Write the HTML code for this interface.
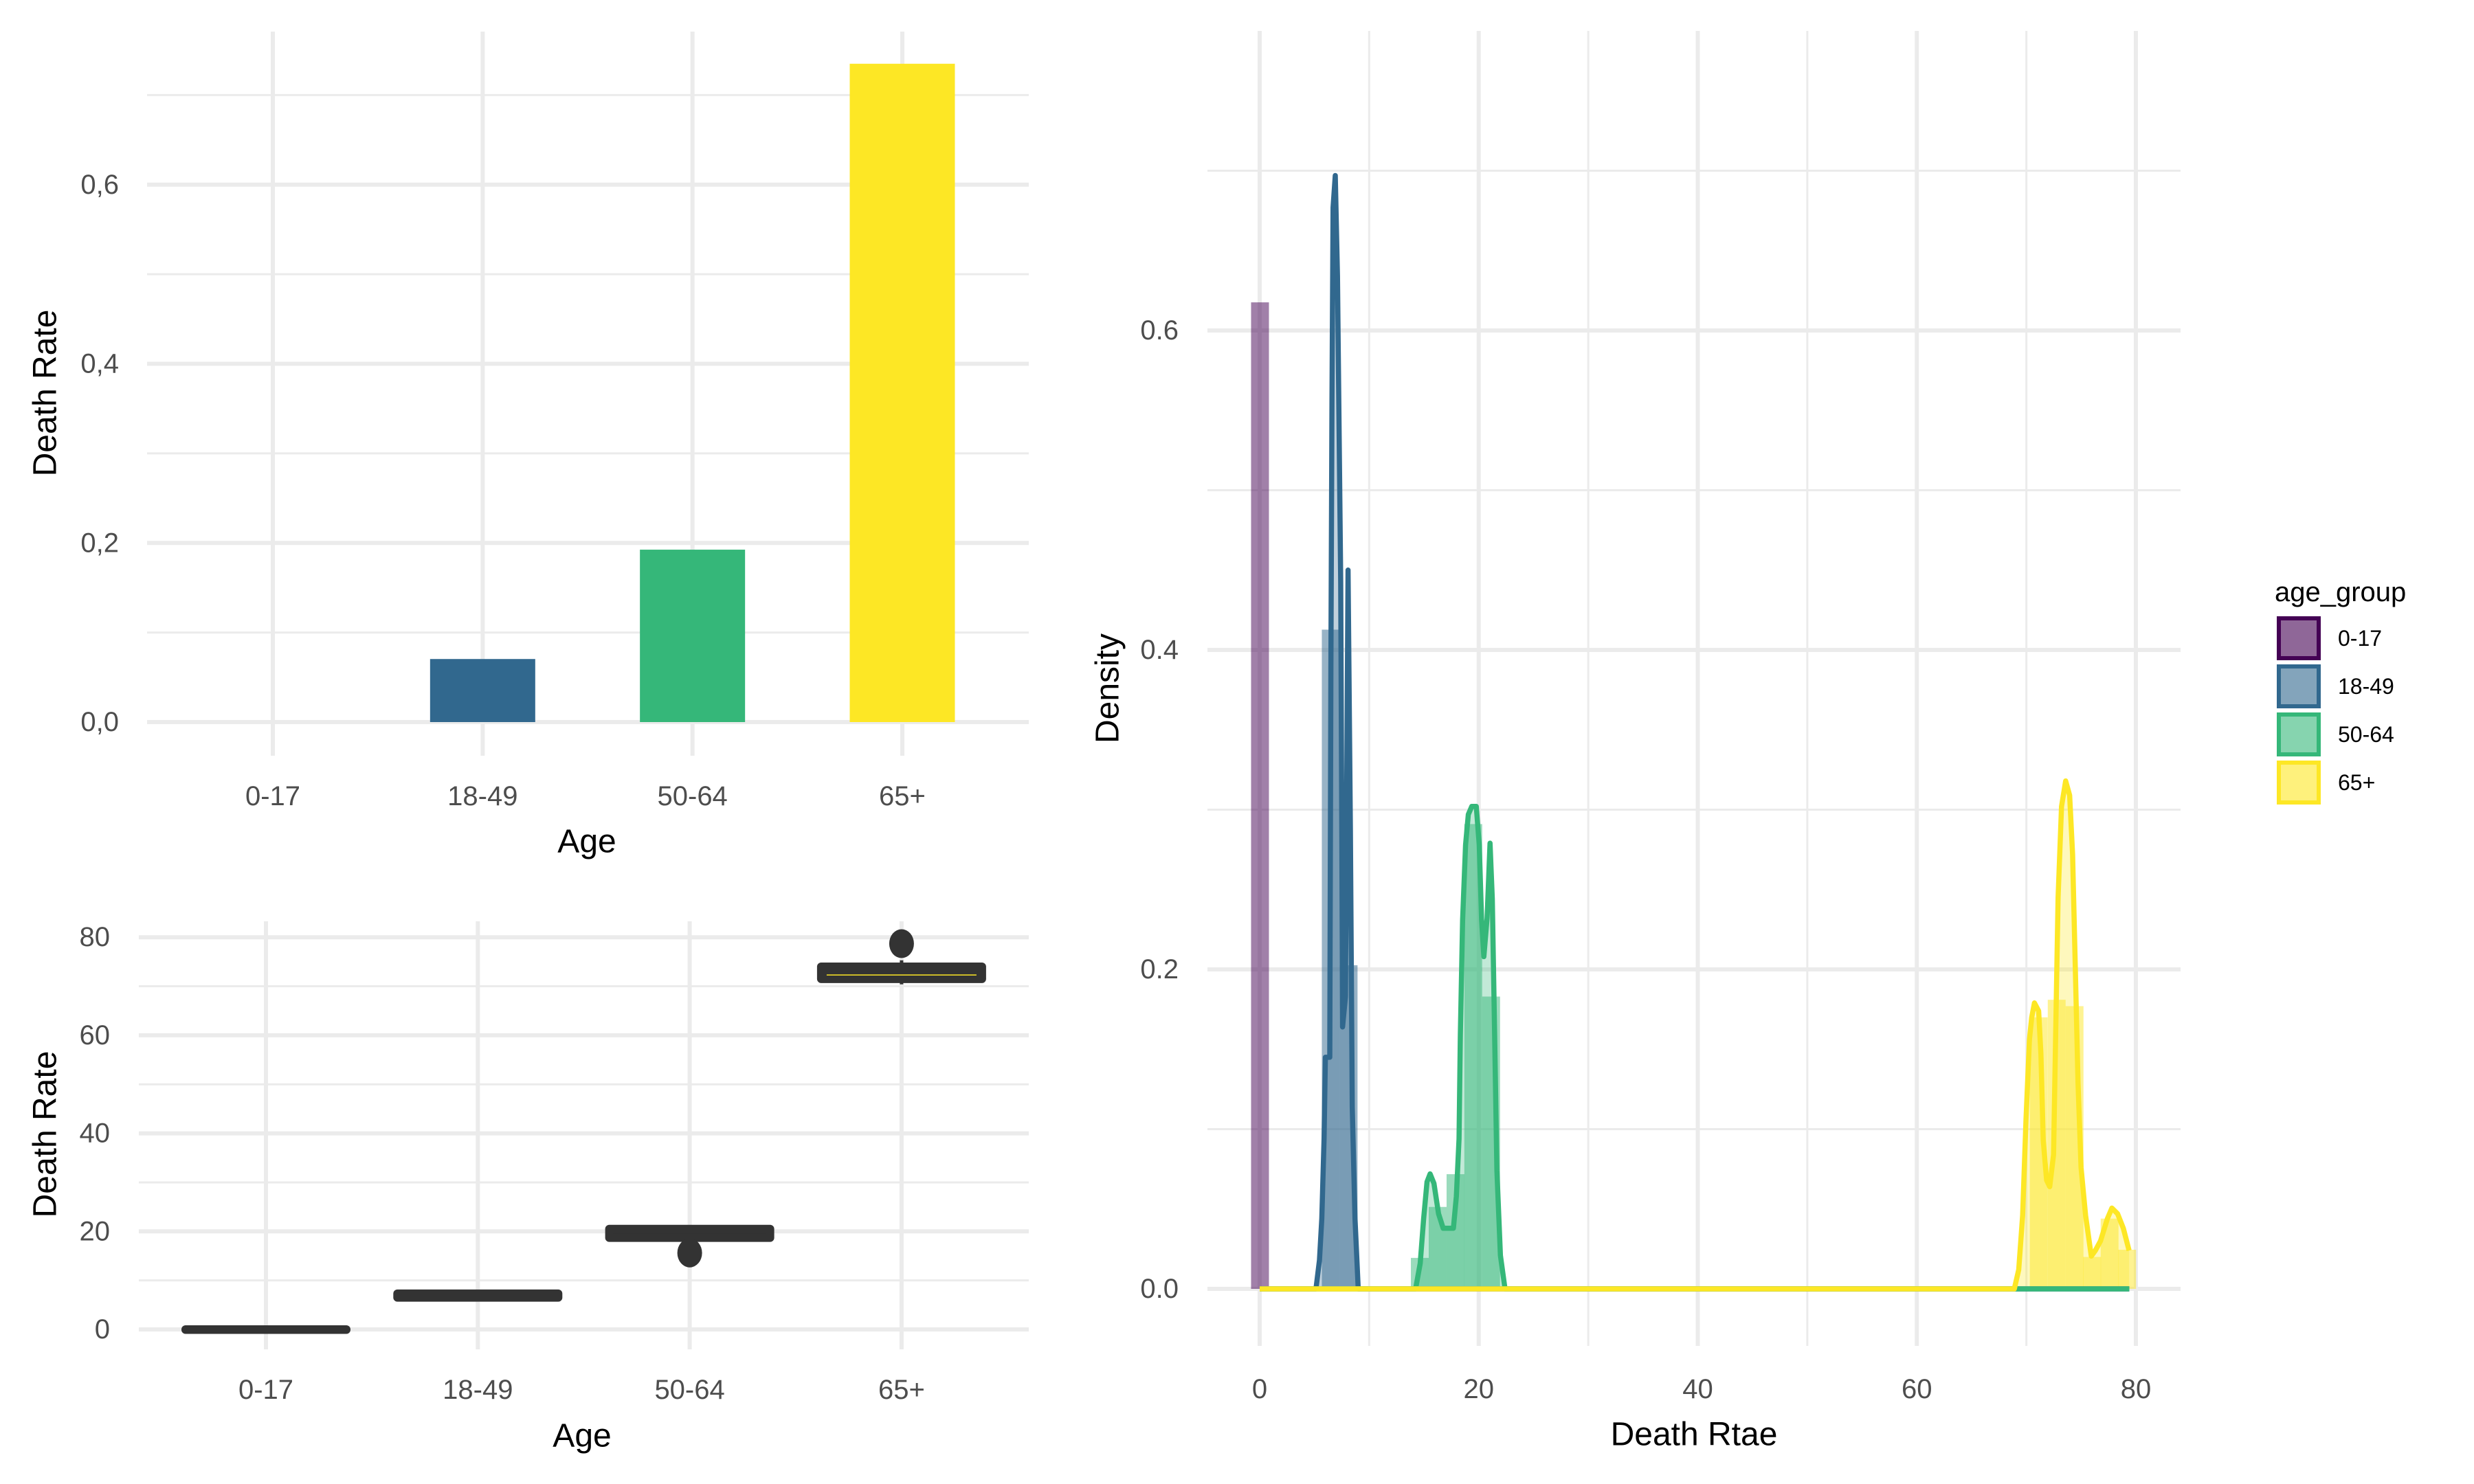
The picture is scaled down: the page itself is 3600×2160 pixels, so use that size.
<!DOCTYPE html>
<html>
<head>
<meta charset="utf-8">
<style>
html,body{margin:0;padding:0;background:#fff;}
svg{display:block;font-family:"Liberation Sans",Arial,sans-serif;}
</style>
</head>
<body>
<svg id="chart" width="3600" height="2160" viewBox="0 0 3600 2160" xmlns="http://www.w3.org/2000/svg">
<g id="grids"></g>
<g id="marks"></g>
<g id="labels"></g>
</svg>
<script>
// ---------- data ----------
const ageGroups = ["0-17","18-49","50-64","65+"];
const colors = ["#440154","#31688E","#35B779","#FDE725"];
const barValues = [0, 0.0704, 0.1925, 0.735];
const barTicks = [0, 0.2, 0.4, 0.6];
const barTickLabels = ["0,0","0,2","0,4","0,6"];

const boxMin = [0, 6.3, 18.3, 70.4];
const boxQ1 = [0, 6.5, 18.7, 71.5];
const boxMed = [0, 7.0, 19.8, 72.3];
const boxQ3 = [0, 7.3, 20.5, 74.0];
const boxMax = [0, 7.6, 21.0, 75.3];
const boxOutlierGroup = [2, 3];
const boxOutlierValue = [15.6, 78.7];
const boxTicks = [0, 20, 40, 60, 80];

const densTicksX = [0, 20, 40, 60, 80];
const densTicksY = [0, 0.2, 0.4, 0.6];
const densTickLabelsY = ["0.0","0.2","0.4","0.6"];
const binWidth = 1.63;
const histCenters0 = [0.03];
const histValues0 = [0.6176];
const histCenters1 = [6.49, 8.12];
const histValues1 = [0.4127, 0.2026];
const histCenters2 = [14.62, 16.25, 17.88, 19.5, 21.13];
const histValues2 = [0.0194, 0.0513, 0.0718, 0.291, 0.183];
const histCenters3 = [71.13, 72.77, 74.4, 76.0, 77.6, 79.2];
const histValues3 = [0.170, 0.181, 0.177, 0.020, 0.044, 0.0245];

const densX1 = [0,5.14,5.46,5.67,5.88,6.0,6.4,6.5,6.6,6.7,6.9,7.1,7.4,7.5,7.57,7.83,7.96,8.07,8.28,8.45,8.7,9.0,79.4];
const densY1 = [0,0,0.018,0.044,0.094,0.145,0.145,0.387,0.556,0.677,0.697,0.634,0.443,0.287,0.164,0.183,0.331,0.450,0.287,0.114,0.044,0,0];
const densX2 = [0,14.24,14.66,14.97,15.28,15.56,15.91,16.33,16.75,17.27,17.69,17.96,18.2,18.32,18.53,18.8,19.05,19.36,19.78,20.05,20.26,20.47,20.76,21.03,21.24,21.45,21.66,21.98,22.4,79.4];
const densY2 = [0,0,0.016,0.044,0.067,0.072,0.066,0.047,0.038,0.038,0.038,0.058,0.094,0.159,0.231,0.278,0.297,0.302,0.302,0.278,0.231,0.208,0.232,0.279,0.244,0.159,0.074,0.021,0,0];
const densX3 = [0,68.9,69.3,69.66,69.97,70.28,70.49,70.74,71.12,71.33,71.54,71.85,72.13,72.48,72.69,72.90,73.21,73.59,73.95,74.22,74.47,74.72,74.99,75.41,75.93,76.3,76.77,77.4,77.81,78.33,78.85,79.38];
const densY3 = [0,0,0.012,0.046,0.106,0.156,0.170,0.179,0.174,0.147,0.093,0.068,0.064,0.084,0.165,0.245,0.302,0.318,0.309,0.272,0.200,0.129,0.076,0.046,0.0205,0.024,0.030,0.044,0.0506,0.047,0.038,0.024];

// ---------- scales ----------
const xB = i => 397 + i * 305.33;
const yB = v => 1051 - v * 1303.7;
const xC = i => 387 + i * 308.3;
const yC = v => 1935 - v * 7.135;
const xR = v => 1833 + v * 15.9375;
const yR = d => 1876 - d * 2325;

const NS = "http://www.w3.org/2000/svg";
const grids = document.getElementById("grids");
const marks = document.getElementById("marks");
const labels = document.getElementById("labels");
function mk(tag, attrs, parent) {
  const e = document.createElementNS(NS, tag);
  for (const k in attrs) e.setAttribute(k, attrs[k]);
  parent.appendChild(e);
  return e;
}
function txt(s, x, y, size, fill, anchor, parent, rot) {
  const t = mk("text", {x: x, y: y, "font-size": size, fill: fill, "text-anchor": anchor, "dominant-baseline": "central"}, parent);
  if (rot) t.setAttribute("transform", "rotate(-90 " + x + " " + y + ")");
  t.textContent = s;
  return t;
}
function gline(x1, y1, x2, y2, w) {
  const l = mk("line", {x1: x1, y1: y1, x2: x2, y2: y2, stroke: "#ebebeb", "stroke-width": w}, grids);
  
  
}

// ---------- bar panel ----------
for (let v = 0; v <= 0.71; v += 0.1) {
  const major = Math.round(v * 10) % 2 === 0;
  gline(214, yB(v), 1497, yB(v), major ? 6 : 3);
}
ageGroups.forEach((g, i) => gline(xB(i), 46, xB(i), 1100, 6));
barValues.forEach((v, i) => {
  if (v <= 0) return;
  const r = mk("rect", {x: xB(i) - 76.5, y: yB(v), width: 153, height: yB(0) - yB(v), fill: colors[i]}, marks);
  
  
});
barTicks.forEach((v, i) => {
  const t = txt(barTickLabels[i], 173, yB(v), 40, "#4d4d4d", "end", labels);
  
  
});
ageGroups.forEach((g, i) => {
  const t = txt(g, xB(i), 1159, 40, "#4d4d4d", "middle", labels);
  
  
});
let t1 = txt("Age", 854, 1225, 48, "#000", "middle", labels);


let t2 = txt("Death Rate", 66, 572, 48, "#000", "middle", labels, true);



// ---------- box panel ----------
for (let v = 0; v <= 80; v += 10) {
  gline(202, yC(v), 1497, yC(v), v % 20 === 0 ? 6 : 3);
}
ageGroups.forEach((g, i) => gline(xC(i), 1341, xC(i), 1964, 6));
ageGroups.forEach((g, i) => {
  const cx = xC(i), hw = 117;
  const w = mk("line", {x1: cx, y1: yC(boxMin[i]), x2: cx, y2: yC(boxMax[i]), stroke: "#333", "stroke-width": 5}, marks);
  
  
  const r = mk("rect", {x: cx - hw, y: yC(boxQ3[i]), width: hw * 2, height: Math.max(yC(boxQ1[i]) - yC(boxQ3[i]), 0.5), fill: "#333", stroke: "#333", "stroke-width": 12, "stroke-linejoin": "round"}, marks);
  
  
  if (i === 3) {
    const m = mk("line", {x1: cx - hw + 8, y1: yC(boxMed[i]), x2: cx + hw - 8, y2: yC(boxMed[i]), stroke: "#FDE725", "stroke-width": 1.5}, marks);
    
    
  }
});
boxOutlierGroup.forEach((gi, k) => {
  const c = mk("ellipse", {cx: xC(gi), cy: yC(boxOutlierValue[k]), rx: 18, ry: 21, fill: "#333"}, marks);
  
  
});
boxTicks.forEach(v => {
  const t = txt(String(v), 160, yC(v), 40, "#4d4d4d", "end", labels);
  
  
});
ageGroups.forEach((g, i) => {
  const t = txt(g, xC(i), 2023, 40, "#4d4d4d", "middle", labels);
  
  
});
let t3 = txt("Age", 847, 2090, 48, "#000", "middle", labels);


let t4 = txt("Death Rate", 66, 1651, 48, "#000", "middle", labels, true);



// ---------- density panel ----------
for (let d = 0; d <= 0.71; d += 0.1) {
  const major = Math.round(d * 10) % 2 === 0;
  gline(1757, yR(d), 3173, yR(d), major ? 6 : 3);
}
for (let v = 0; v <= 80; v += 10) {
  gline(xR(v), 45, xR(v), 1959, v % 20 === 0 ? 6 : 3);
}
const histC = [histCenters0, histCenters1, histCenters2, histCenters3];
const histV = [histValues0, histValues1, histValues2, histValues3];
histC.forEach((cs, g) => {
  cs.forEach((c, k) => {
    const r = mk("rect", {x: xR(c - binWidth / 2), y: yR(histV[g][k]), width: xR(binWidth) - xR(0), height: yR(0) - yR(histV[g][k]), fill: colors[g], "fill-opacity": 0.5}, marks);
    
    
  });
});
const dX = [densX1, densX2, densX3];
const dY = [densY1, densY2, densY3];
dX.forEach((xs, k) => {
  const pts = xs.map((x, j) => xR(x).toFixed(1) + "," + yR(dY[k][j]).toFixed(1));
  const poly = mk("polygon", {points: pts.join(" ") + " " + xR(xs[xs.length - 1]) + "," + yR(0) + " " + xR(xs[0]) + "," + yR(0), fill: colors[k + 1], "fill-opacity": 0.3, stroke: "none"}, marks);
  
  
});
dX.forEach((xs, k) => {
  const pts = xs.map((x, j) => xR(x).toFixed(1) + "," + yR(dY[k][j]).toFixed(1));
  const pl = mk("polyline", {points: pts.join(" "), fill: "none", stroke: colors[k + 1], "stroke-width": 7.5, "stroke-linejoin": "round", "stroke-linecap": "butt"}, marks);
  
  
});
densTicksY.forEach((d, i) => {
  const t = txt(densTickLabelsY[i], 1715, yR(d), 40, "#4d4d4d", "end", labels);
  
  
});
densTicksX.forEach(v => {
  const t = txt(String(v), xR(v), 2022, 40, "#4d4d4d", "middle", labels);
  
  
});
let t5 = txt("Death Rtae", 2465, 2088, 48, "#000", "middle", labels);


let t6 = txt("Density", 1612, 1002, 48, "#000", "middle", labels, true);



// ---------- legend ----------
const legend = mk("g", {}, labels);


let lt = txt("age_group", 3310, 862, 40, "#000", "start", legend);


ageGroups.forEach((g, i) => {
  const y0 = 900 + i * 70;
  const r = mk("rect", {x: 3316, y: y0, width: 58, height: 58, fill: colors[i], "fill-opacity": 0.6, stroke: colors[i], "stroke-width": 6}, legend);
  
  
  const t = txt(g, 3402, y0 + 29, 32, "#000", "start", legend);
  
  
});
</script>
</body>
</html>
